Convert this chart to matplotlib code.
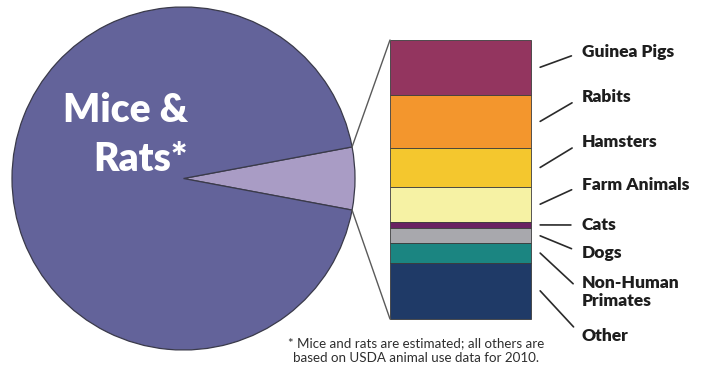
import numpy as np
import matplotlib
matplotlib.use("Agg")
import matplotlib.pyplot as plt
from matplotlib.patches import ConnectionPatch

plt.rcParams['font.family'] = ['Lato', 'DejaVu Sans']

# animals used in research, thousands (mice & rats estimated)
animals = ["Guinea Pigs", "Rabits", "Hamsters", "Farm Animals",
           "Cats", "Dogs", "Non-Human\nPrimates", "Other"]
counts = [213, 210, 150, 137, 25, 60, 75, 220]
bar_colors = ["#93355f", "#f3962d", "#f4c72e", "#f6f2a4",
              "#6a2262", "#a8a8ad", "#1b8581", "#1f3a67"]
mice_rats = 17400

pie_colors = ["#a99cc5", "#63639a"]
edge = "#3a3a4a"

W, H = 708, 367


def px_box(x0, y0, x1, y1):
    # axes rectangle given in image pixels (origin top-left)
    return [x0 / W, 1 - y1 / H, (x1 - x0) / W, (y1 - y0) / H]


fig = plt.figure(figsize=(W / 100, H / 100), dpi=100)

# --- pie: mice & rats vs everything else ---
cx, cy, r = 183.5, 178.5, 171.5
pad = 3
ax_pie = fig.add_axes(px_box(cx - r - pad, cy - r - pad, cx + r + pad, cy + r + pad))
others = sum(counts)
angle = 360 * others / (others + mice_rats)
ax_pie.pie([others, mice_rats], colors=pie_colors, startangle=-angle / 2,
           radius=1, wedgeprops=dict(edgecolor=edge, linewidth=0.9))
lim = (r + pad) / r
ax_pie.set_xlim(-lim, lim)
ax_pie.set_ylim(-lim, lim)
ax_pie.axis('off')

fig.text(188 / W, 1 - 122 / H, "Mice &", ha='right', va='baseline',
         color='white', fontsize=28, fontweight='heavy')
fig.text(188 / W, 1 - 171 / H, "Rats*", ha='right', va='baseline',
         color='white', fontsize=28, fontweight='heavy')

# --- stacked bar breaking down the small wedge ---
ax_bar = fig.add_axes(px_box(390, 40, 531, 319))
total = sum(counts)
tops = total - np.concatenate([[0], np.cumsum(counts)[:-1]])
bottoms = tops - np.array(counts)
ax_bar.bar([0.5] * len(counts), counts, width=1, bottom=bottoms,
           color=bar_colors, edgecolor="#3c3c3c", linewidth=0.6, clip_on=False)
ax_bar.set_xlim(0, 1)
ax_bar.set_ylim(0, total)
ax_bar.axis('off')

# lines joining the wedge to the bar
theta = np.deg2rad(angle / 2)
for yb, sgn in [(total, 1), (0, -1)]:
    con = ConnectionPatch(xyA=(0, yb), coordsA=ax_bar.transData,
                          xyB=(np.cos(theta), sgn * np.sin(theta)),
                          coordsB=ax_pie.transData,
                          color="#5a5a5a", linewidth=1.0)
    fig.add_artist(con)

# labels with leader lines
label_y = [52, 97, 142, 185, 225, 253, 292, 336]
for name, b, c, ly in zip(animals, bottoms, counts, label_y):
    ax_bar.annotate(name, xy=(1.065, b + c / 2),
                    xycoords=('axes fraction', 'data'),
                    xytext=(582, H - ly), textcoords='figure pixels',
                    ha='left', va='center', fontsize=12.5, fontweight='heavy',
                    color='#1e1e1e', linespacing=1.1, annotation_clip=False,
                    arrowprops=dict(arrowstyle='-', color='#2a2a2a', lw=1.2,
                                    shrinkA=6, shrinkB=0, relpos=(0, 0.5)))

fig.text(416 / W, 1 - 351 / H,
         "* Mice and rats are estimated; all others are\n"
         "based on USDA animal use data for 2010.",
         ha='center', va='center', fontsize=9.6, color='#2e2e2e', linespacing=1.3)

fig.savefig("out.png", dpi=100, facecolor='white')
